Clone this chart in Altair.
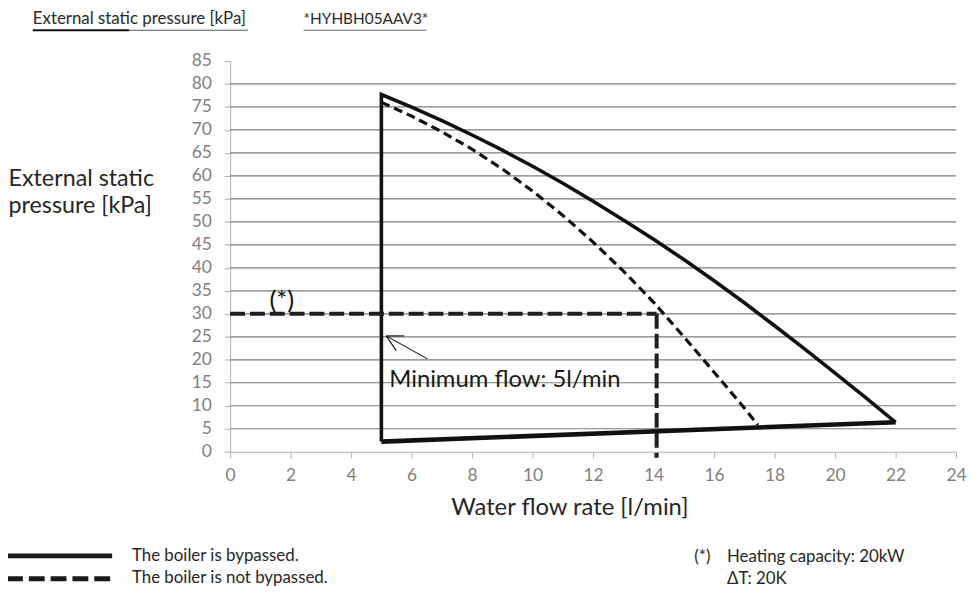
import altair as alt
import pandas as pd

FONT = "Lato"

# ---------------- data ----------------
x_ticks = list(range(0, 25, 2))
y_ticks = list(range(0, 90, 5))
grid_values = list(range(5, 85, 5))

# boiler bypassed (solid outline): vertical at min flow, upper curve
bypassed_x = [5, 5, 6, 7, 8, 9, 10, 11, 12, 13, 14, 15, 16, 17, 18, 19, 20, 21, 22]
bypassed_y = [2.2, 77.7, 74.95, 72.0, 68.9, 65.6, 62.1, 58.4, 54.5, 50.4, 46.2, 41.8,
              37.2, 32.4, 27.4, 22.3, 17.1, 11.8, 6.4]
bottom_x = [5, 22]
bottom_y = [2.2, 6.4]

# boiler not bypassed (dashed)
not_bypassed_x = [5, 6, 7, 8, 9, 10, 11, 12, 13, 14, 15, 16, 17, 17.45]
not_bypassed_y = [76.0, 73.0, 69.6, 65.8, 61.5, 56.7, 51.4, 45.6, 39.3, 32.5, 25.0,
                  17.3, 9.5, 5.8]

# operating point (*) at 30 kPa
op_h_x = [0, 14.1]
op_h_y = [30, 30]
op_v_x = [14.1, 14.1]
op_v_y = [30, -1.3]

# arrow pointing to minimum flow
arrow_x = [6.52, 5.16, 5.16, 5.76, 5.16, 5.49]
arrow_y = [20.2, 25.2, 25.2, 25.2, 25.2, 22.0]
arrow_seg = [0, 0, 1, 1, 2, 2]

star_label = ["(*)"]
star_x = [1.3]
star_y = [32.7]
minflow_label = ["Minimum flow: 5l/min"]
minflow_x = [5.26]
minflow_y = [15.6]

header_labels = ["External static pressure [kPa]", "*HYHBH05AAV3*"]
y_title = ["External static", "pressure [kPa]"]
x_title = "Water flow rate [l/min]"
legend_labels = ["The boiler is bypassed.", "The boiler is not bypassed."]
note_labels = ["(*)", "Heating capacity: 20kW", "\u0394T: 20K"]

W, H = 732, 394

# ---------------- encodings ----------------
xs = alt.Scale(domain=[0, 24], nice=False, zero=False)
ys = alt.Scale(domain=[0, 85], nice=False, zero=False)

X = alt.X("x:Q", scale=xs, axis=alt.Axis(
    values=x_ticks, grid=False, labelFont=FONT, labelFontSize=17.5, labelColor="#808080",
    labelPadding=9, labelFlush=False, labelOverlap=False, tickColor="#b0b0b0", tickSize=6,
    domainColor="#b0b0b0", title=x_title, titleFont=FONT, titleFontSize=24,
    titleFontWeight="normal", titleColor="#262626", titleX=342, titleY=56,
    titleBaseline="middle"))
Y = alt.Y("y:Q", scale=ys, axis=alt.Axis(
    values=y_ticks, grid=False, labelFont=FONT, labelFontSize=17.5, labelColor="#808080",
    labelPadding=13, tickColor="#b0b0b0", tickSize=6, domainColor="#b0b0b0",
    title=y_title, titleFont=FONT, titleFontSize=23.5, titleFontWeight="normal",
    titleColor="#262626", titleAngle=0, titleAlign="left", titleX=-224, titleY=119,
    titleBaseline="middle", titleLineHeight=27))

grid = alt.Chart(pd.DataFrame({"y": grid_values})).mark_rule(
    color="#7d7d7d", strokeWidth=1.2).encode(y=Y)

bypassed = alt.Chart(pd.DataFrame({"x": bypassed_x, "y": bypassed_y,
                                   "o": list(range(len(bypassed_x)))})).mark_line(
    color="#111111", strokeWidth=3.6, strokeJoin="miter").encode(
    x=X, y=Y, order="o:Q")

bottom = alt.Chart(pd.DataFrame({"x": bottom_x, "y": bottom_y})).mark_line(
    color="#111111", strokeWidth=4.6).encode(x=X, y=Y)

not_bypassed = alt.Chart(pd.DataFrame({"x": not_bypassed_x, "y": not_bypassed_y})).mark_line(
    color="#111111", strokeWidth=3.2, strokeDash=[9, 5]).encode(x=X, y=Y)

op_df = pd.DataFrame({"x": op_h_x + op_v_x, "y": op_h_y + op_v_y, "s": [0, 0, 1, 1]})
op = alt.Chart(op_df).mark_line(color="#1e1e1e", strokeWidth=4, strokeDash=[15, 5]).encode(
    x=X, y=Y, detail="s:N")

arrow = alt.Chart(pd.DataFrame({"x": arrow_x, "y": arrow_y, "s": arrow_seg})).mark_line(
    color="#111111", strokeWidth=1.1).encode(x=X, y=Y, detail="s:N")

star = alt.Chart(pd.DataFrame({"x": star_x, "y": star_y, "t": star_label})).mark_text(
    font=FONT, fontSize=26, align="left", baseline="middle", color="#111111").encode(
    x=X, y=Y, text="t:N")

minflow = alt.Chart(pd.DataFrame({"x": minflow_x, "y": minflow_y, "t": minflow_label})).mark_text(
    font=FONT, fontSize=24, align="left", baseline="middle", color="#1a1a1a").encode(
    x=X, y=Y, text="t:N")

# ---------------- annotations outside the plot ----------------
def txt(label, px, py, size, color="#262626", align="left", baseline="middle"):
    return alt.Chart(pd.DataFrame({"t": [label]})).mark_text(
        font=FONT, fontSize=size, align=align, baseline=baseline, color=color).encode(
        x=alt.value(px), y=alt.value(py), text="t:N")

def rule(x1, x2, py, width, color, dash=None):
    kw = dict(color=color, strokeWidth=width)
    if dash:
        kw["strokeDash"] = dash
    return alt.Chart(pd.DataFrame({"a": [0]})).mark_rule(**kw).encode(
        x=alt.value(x1), x2=alt.value(x2), y=alt.value(py))

ann = [
    txt(header_labels[0], -199, -37, 17, "#2a2a2a", baseline="alphabetic"),
    txt(header_labels[1], 74, -37, 15.5, "#2a2a2a", baseline="alphabetic"),
    rule(-199, -102, -31, 2, "#111111"),
    rule(-102, 18, -31, 1, "#4d5866"),
    rule(74, 198, -31, 1, "#6a6a6a"),
    rule(-225, -119, 499, 5, "#1a1a1a"),
    rule(-225, -119, 522, 5, "#1a1a1a", [16, 6]),
    txt(legend_labels[0], -99, 499, 17),
    txt(legend_labels[1], -99, 521, 17),
    txt(note_labels[0], 468, 500, 17),
    txt(note_labels[1], 501, 500, 17),
    txt(note_labels[2], 501, 522, 17),
]

chart = alt.layer(grid, bypassed, bottom, not_bypassed, op, arrow, star, minflow, *ann).properties(
    width=W, height=H,
    autosize=alt.AutoSizeParams(type="none"),
    padding={"left": 224, "top": 51, "right": 12, "bottom": 136},
    background="white",
).configure_view(stroke=None)

chart.save("out.html", embed_options={"renderer": "svg", "actions": False})
